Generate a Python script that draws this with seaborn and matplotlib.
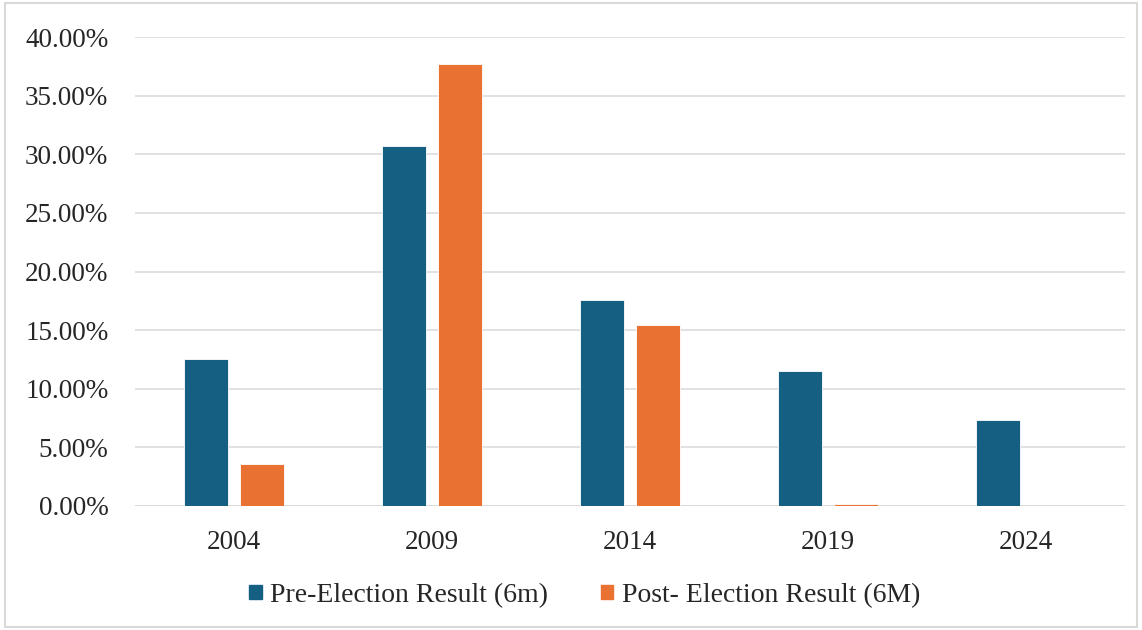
import pandas as pd
import matplotlib.pyplot as plt
import seaborn as sns
from matplotlib.patches import Rectangle
from matplotlib.ticker import PercentFormatter

# -------------------------------------------------------
# DATA
# -------------------------------------------------------
years = ["2004", "2009", "2014", "2019", "2024"]
pre_election = [12.5, 30.7, 17.6, 11.5, 7.35]
post_election = [3.55, 37.75, 15.45, 0.15, 0.0]
series_names = ["Pre-Election Result (6m)", "Post- Election Result (6M)"]
colors = ["#156082", "#E97132"]

df = pd.DataFrame({
    "Year": years * 2,
    "Value": pre_election + post_election,
    "Series": [series_names[0]] * len(years) + [series_names[1]] * len(years),
})

# -------------------------------------------------------
# PLOT
# -------------------------------------------------------
sns.set_style("white")
plt.rcParams["font.family"] = ["Liberation Serif", "DejaVu Serif"]

fig = plt.figure(figsize=(11.42, 6.3), dpi=100)
ax = fig.add_axes([0.118, 0.197, 0.867, 0.744])

sns.barplot(data=df, x="Year", y="Value", hue="Series", palette=colors,
            saturation=1, width=0.566, gap=0.215, edgecolor="white",
            linewidth=0.6, ax=ax)

ax.set_ylim(0, 40)
ax.set_xlim(-0.5, len(years) - 0.5)
ax.set_yticks(range(0, 41, 5))
ax.yaxis.set_major_formatter(PercentFormatter(decimals=2))
ax.grid(axis="y", color="#d9d9d9", linewidth=1.1)
ax.set_axisbelow(True)
for side in ["top", "right", "left", "bottom"]:
    ax.spines[side].set_visible(False)
ax.axhline(0, color="#d9d9d9", linewidth=1.3, zorder=0)

ax.tick_params(axis="both", length=0, labelsize=19.5)
ax.tick_params(axis="y", pad=19)
ax.tick_params(axis="x", pad=17)
ax.set_xlabel("")
ax.set_ylabel("")

ax.legend_.remove()
handles = [Rectangle((0, 0), 1, 1, color=c) for c in colors]
fig.legend(handles, series_names, loc="center", bbox_to_anchor=(0.512, 0.055),
           ncol=2, frameon=False, fontsize=20, handlelength=0.45,
           handleheight=0.45, handletextpad=0.3, columnspacing=1.9)

# light border round the chart area
fig.add_artist(Rectangle((0.004, 0.004), 0.992, 0.991, transform=fig.transFigure,
                         fill=False, edgecolor="#d9d9d9", linewidth=1.5))

fig.savefig("out.png", dpi=100)
